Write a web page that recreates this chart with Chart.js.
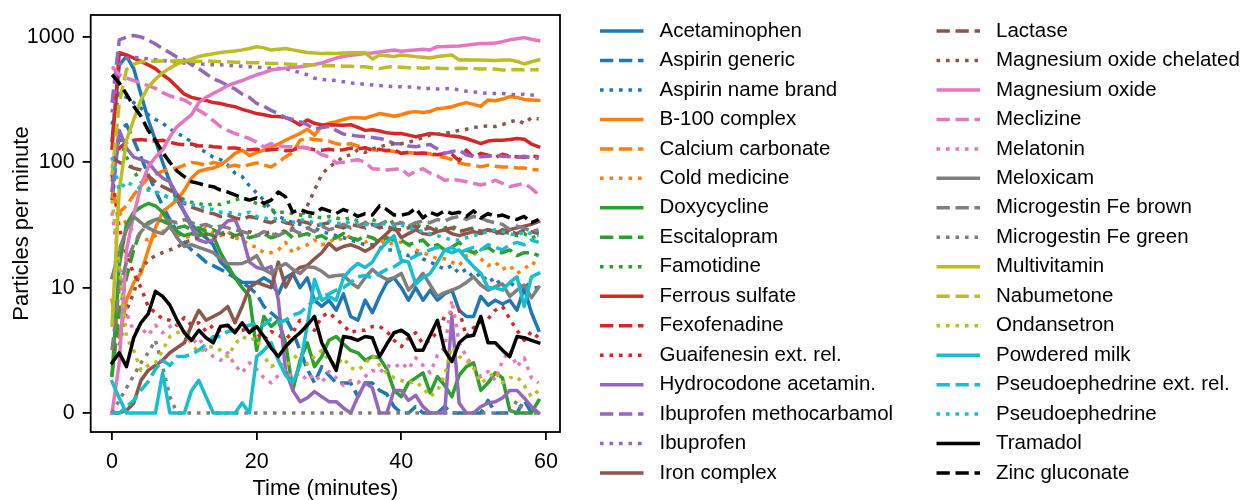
<!DOCTYPE html>
<html>
<head>
<meta charset="utf-8">
<script src="https://cdn.jsdelivr.net/npm/chart.js@4"></script>
<style>
  html, body { margin: 0; padding: 0; background: #fff; }
  #wrap { width: 1246px; height: 500px; }
</style>
</head>
<body>
<div id="wrap"><canvas id="chart" width="1246" height="500"></canvas></div>
<script>
/* particles per minute, 32 products */
const minutes = [0,1,2,3,4,5,6,7,8,9,10,11,12,13,14,15,16,17,18,19,20,21,22,23,24,25,26,27,28,29,
  30,31,32,33,34,35,36,37,38,39,40,41,42,43,44,45,46,47,48,49,50,51,52,53,54,55,56,57,58,59];
const xTicks = [0, 20, 40, 60];
const yTicks = [0, 10, 100, 1000];

const names = ['Acetaminophen', 'Aspirin generic', 'Aspirin name brand', 'B-100 complex', 'Calcium carbonate',
  'Cold medicine', 'Doxycycline', 'Escitalopram', 'Famotidine', 'Ferrous sulfate', 'Fexofenadine',
  'Guaifenesin ext. rel.', 'Hydrocodone acetamin.', 'Ibuprofen methocarbamol', 'Ibuprofen', 'Iron complex',
  'Lactase', 'Magnesium oxide chelated', 'Magnesium oxide', 'Meclizine', 'Melatonin', 'Meloxicam',
  'Microgestin Fe brown', 'Microgestin Fe green', 'Multivitamin', 'Nabumetone', 'Ondansetron',
  'Powdered milk', 'Pseudoephedrine ext. rel.', 'Pseudoephedrine', 'Tramadol', 'Zinc gluconate'];

const acetaminophen = [150,600,700,560,350,220,150,100,70,50, 40,32,28,25,22,16,14,12,11,11,
  11,12,11,9.5,12,13,10,12,9,8.5, 9,8.2,9.5,7.7,7.4,9,8,9.3,11,12,
  10,9,10,9,9.8,9,9.5,9.8,8.2,7.7, 7.7,9.3,8.6,9,8.7,9,8.2,10,8,6.6];
const aspirinGeneric = [50,180,200,150,110,80,60,45,35,28, 23,20,18,16,15,14,13,12,11,10,
  9.5,8.5,8,7.5,7.6,6.5,5,3.5,2.4,3.7, 3,2.4,2.4,2.4,1.3,2.4,2.4,1.8,1.5,0.5,
  0,0,0.5,0,0,0,0.5,0,0,0, 0,0,1,0,0,0,0,1,0,0];
const aspirinBrand = [200,355,330,300,270,240,220,205,185,170, 160,145,130,120,110,105,95,82,77,65,
  57,50,42,37,35,33,32,30,30,28, 27,26,25,24,23,22,22,21,20,20,
  19,18,19,17,16,15,14,15,13,14, 12,13,11,12,10,11,10,11,10,10];
const b100 = [9,6,9,11,13,20,30,40,45,50, 60,75,85,88,90,95,105,118,125,113,
  120,125,133,140,150,160,170,184,165,195, 205,211,220,227,227,225,235,245,240,233,
  240,250,254,250,255,268,272,278,290,300, 290,280,315,310,320,335,330,318,315,312];
const calcium = [60,40,45,55,65,75,80,85,88,90, 95,100,98,95,100,97,92,95,92,96,
  99,95,92,100,111,120,150,155,152,150, 148,141,138,141,135,130,126,124,125,122,
  118,120,118,118,117,111,110,105,99,96, 95,92,95,93,92,92,90,90,88,87];
const coldMedicine = [55,40,32,28,25,24,26,28,30,27, 25,26,28,30,27,26,28,25,24,22,
  21,19,19,20,23,19,21,22,24,22, 23,25,24,26,24,23,25,24,22,23,
  23,22,20,19,18,17,17,16,15,18, 19,17,15,16,14,15,13,14,16,15];
const doxycycline = [3,15,32,40,44,47,45,40,32,28, 26,27,26,27,26,19,15,12,10,9.3,
  5,7.7,6.9,7.4,5.6,1.8,4.2,5.6,3.7,4.5, 5.8,6.1,5.5,5,4.8,4.2,4.5,4.4,3.5,1.8,
  1.3,2.4,2.8,3.2,1.6,2.9,2.2,1.3,3,3.7, 4,1.8,2.4,3.2,2.8,0.2,0,0,0,1];
const escitalopram = [3,8,12,20,29,33,35,34,32,30, 31,29,30,28,29,27,28,26,27,25,
  26,27,25,26,28,25,26,27,25,26, 24,25,27,25,24,26,25,23,25,24,
  24,22,23,24,21,22,20,21,23,20, 19,20,21,19,19,20,18,19,19,18];
const famotidine = [70,160,110,85,70,62,58,55,52,55, 50,48,47,45,47,46,48,50,52,50,
  47,45,42,40,40,39,38,37,37,36, 37,36,35,36,34,33,35,33,32,34,
  33,31,32,30,31,29,30,31,29,28, 30,28,29,27,28,27,26,27,25,26];
const ferrous = [130,750,720,680,640,600,560,500,455,400, 350,330,320,312,300,295,285,278,265,255,
  245,240,233,232,228,215,199,218,205,199, 200,199,198,200,190,180,182,178,172,170,
  170,165,160,165,170,168,165,162,160,155, 148,141,148,150,150,152,155,153,140,133];
const fexofenadine = [90,130,145,150,152,150,148,150,145,140, 138,140,135,136,133,132,130,130,128,126,
  127,125,126,128,124,125,133,130,126,125, 127,125,126,130,128,131,125,127,124,126,
  118,120,118,119,117,115,118,116,103,125, 110,118,114,110,116,112,111,110,112,111];
const guaifenesin = [80,30,18,13,10,8.5,8,7.5,7.4,7, 7.6,7,7.2,6.5,7,6.6,7,6.5,6.6,6.8,
  6.4,5.8,6.5,6.2,5.9,6.4,7.4,7,6.6,7.7, 8,7.5,7,6.4,6.6,6.6,6.9,6.9,6.5,5.8,
  5.3,6,6.4,5.5,5.8,6.5,7.7,8,8.2,6.1, 6.8,7.2,7.5,8.2,8.5,7.5,6.6,5.8,6.5,6];
const hydrocodone = [60,180,130,110,105,100,85,75,70,55, 40,30,24,23,24,30,34,35,26,16,
  14.5,14,14.7,9,3.4,1.8,0.9,1.2,1.7,1.3, 0.9,0.9,0.4,0,1.3,2.4,2,0,0,1.8,
  1.8,1,1.4,0.5,0,0,0,7.7,0.8,0, 0,0.5,0.8,0.9,1.2,1.8,1.8,1.2,0.5,0];
const ibuMetho = [300,950,1000,1030,1000,945,880,810,750,690, 660,600,560,510,465,440,410,385,350,330,
  295,280,260,245,227,220,211,200,184,190, 193,180,168,165,162,160,158,155,150,141,
  141,135,133,137,139,128,118,122,125,115, 111,111,112,114,112,111,110,112,109,108];
const ibuprofen = [250,600,680,690,680,670,660,650,640,630, 620,615,610,605,600,600,595,590,585,580,
  575,570,565,560,560,540,520,500,470,460, 455,450,440,430,425,420,415,410,405,402,
  402,400,400,385,390,385,388,385,380,370, 365,360,355,355,355,350,345,350,345,340];
const ironComplex = [0,0,0.2,0.8,2.6,3.4,3.8,4.2,4.8,5.2, 5.6,7,8.2,7.4,7.7,8,8.5,7.2,8.5,10,
  11,10.5,10,16,10.1,13,14.5,15,17,19, 22.6,20,21.3,22,21,19.5,21,24,27,30.8,
  25,27,29,27,26.5,28,29,27,26,27, 28,27,29,28,27,29,30,31,32,33.7];
const lactase = [110,100,95,90,87,78,70,64,60,55, 47,44,42,40,39,37,38,36,35,37,
  36,34,33,35,33,32,34,33,31,32, 33,31,30,32,31,30,32,30,31,29,
  29,30,31,29,30,28,29,30,28,29, 30,28,29,27,29,28,27,29,28,27];
const mgChelated = [5,5.3,8.2,9.6,14,16.6,18,19,20,21, 23,24,25,26,25,27,26,25,27,28,
  26,27,28,26,29,30,35,45,60,80, 92,100,111,115,126,120,128,133,138,141,
  141,145,150,158,165,168,170,175,180,184, 190,193,195,193,200,210,218,204,227,222];
const mgOxide = [0,4,20,38,65,92,110,126,160,193, 215,240,300,330,355,380,410,430,450,475,
  500,520,545,555,565,575,580,590,605,620, 650,680,700,715,725,740,745,760,775,789,
  770,780,789,800,790,838,840,845,850,862, 875,890,890,896,920,950,970,990,960,935];
const meclizine = [580,500,470,450,430,410,390,360,340,325, 315,290,260,240,215,193,180,170,162,155,
  145,133,141,136,133,133,132,130,125,115, 111,99,100,103,105,100,89,88,87,88,
  89,79,85,89,82,78,72,73,72,70, 68,66,68,72,68,64,66,68,62,55];
const melatonin = [40,15,8,6.5,6.8,6.2,7,6.4,6.9,7.2, 6.4,5.5,6,5,4.5,4.2,4.8,3.8,3.2,4,
  3.5,2.8,2.4,3,3.5,2.8,3.2,2.6,3.1,2.4, 3.3,2.8,2.2,2.6,2.4,2.9,3.4,3.2,3.8,3.6,
  4,3.5,4.4,3.8,3.2,4.6,5.2,9,5.6,4.5, 3.6,2.9,3.3,2.6,4.2,5,3.7,4.4,2.8,2.4];
const meloxicam = [12,20,29,37,33,30,28,27,31,25, 21.3,22,21,20,19,17,15.6,15.5,15.6,16.5,
  18,14,13,14.5,15.6,14,13,14.7,14.5,13.5, 12.2,12.5,12.6,11,10,12,14,12.5,11.6,12,
  13,9.8,11,13,10.5,9.3,9.6,9.8,10.1,11, 12.2,10.5,9.8,10.2,10.7,9.3,9.8,10.5,9.2,10.1];
const microBrown = [5,10,16,22,28,32,35,36,34,33, 35,33,31,32,30,31,30,29,28,27,
  26,28,27,26,28,29,27,30,28,31, 29,30,32,30,31,33,31,32,34,32,
  33,31,33,34,33,35,34,36,37,35, 37,36,34,33,32,29,31,30,28,29];
const microGreen = [0,1,2,3,4,4.8,5.8,3.7,1.3,0, 0,0,0,0,0,0,0,0,0,0,
  0,0,0,0,0,0,0,0,0,0, 0,0,0,0,0,0,0,0,0,0,
  0,0,0,0,0,0,0,0,0,0, 0,0,0,0,0,0,1,0,0,0];
const multivitamin = [7,60,150,220,315,400,460,520,565,610, 640,670,700,720,735,752,765,775,790,810,
  838,820,789,800,810,790,770,752,745,740, 742,740,745,748,750,752,668,720,710,698,
  720,710,698,690,680,700,710,720,657,660, 657,655,652,650,655,657,640,610,635,657];
const nabumetone = [80,300,550,610,635,640,640,645,640,650, 645,640,640,645,640,635,635,630,630,625,
  625,620,615,615,610,605,605,600,600,590, 590,590,585,585,580,580,570,560,575,580,
  575,570,570,565,570,565,560,560,565,560, 560,555,560,555,545,548,550,545,548,548];
const ondansetron = [50,15,6,5,3.4,3.8,4,5,6.1,6.4, 6.6,5.5,4.8,5.2,5.3,5,4.5,5.5,6.1,5.8,
  6,4.5,3.7,4,3.7,4.3,4.8,3.9,4.5,5, 4.2,3.8,4.4,3.6,3.4,3.9,4.6,3.8,3.2,2.8,
  2.6,2.4,2.5,2,1.3,1.8,3,5.3,4.5,4.2, 3.6,2.4,2.8,3.3,2.4,2.8,2.9,2.2,1.3,1.8];
const powderedMilk = [2.5,1.2,0,0,0,0,0,3.2,0,0, 0,1.8,2.6,1.3,0,0,0,0,0.8,0,
  4.5,5,5.6,4.2,3,2.4,3.8,7,11.6,9, 9.3,9,12,14,15.6,14.5,16,20,23,26,
  16.6,16,10.7,12,13,16,20,19,20,17, 14.7,13,10,10,9.8,11,12.2,8.5,12.2,13];
const pseudoER = [0,0,0.5,1,1.8,2.5,3.5,4.2,3.8,4.5, 4.5,4.7,5,5.5,6.1,6.1,6.5,6.6,6.8,7,
  7.2,7,7.5,7.2,7.4,7.8,8,8.5,9,9.3, 9.5,9.8,10,11,12.2,12.5,12,13,14,14.7,
  16,16.6,18,19,20,21,20,21,19,20, 21,20,22,21,20,22,23,22,24,23];
const pseudo = [110,60,70,65,62,60,58,55,52,50, 48,46,45,43,42,40,40,39,38,40,
  37,36,35,36,34,33,35,34,33,32, 34,33,32,34,33,32,31,33,32,31,
  31.6,30,29,28,27,26,25,24,24,25, 26,27,28,29,28,27,26,28,27,26];
const tramadol = [4,4.8,3.7,6,7.2,7.9,9.7,9.3,8.6,7.4, 6.4,5.8,6.6,6,5.6,6.9,7,6.4,7.2,6.4,
  6.9,6.1,5.2,4.5,5.3,5.9,6.4,7,7.7,5.6, 4.5,3.4,6.1,6,5.8,6.1,6,4.5,5.5,6.4,
  6.6,6.2,5,5,6.2,7.4,5,4.1,5.6,6.1, 6.2,7.7,5.6,5.6,5,4.5,6.1,6,5.8,5.6];
const zinc = [500,430,350,280,233,180,150,120,100,85, 77,70,68,65,64,60,58,55,52,50,
  52,47,50,58,53,40,42,40,39,43, 41,39,42,40,37,39,38,45,42,38,
  38,39,43,36,40,38,41,39,40,37, 41,36,39,37,38,36,35,37,33,35];

const series = [acetaminophen, aspirinGeneric, aspirinBrand, b100, calcium, coldMedicine, doxycycline,
  escitalopram, famotidine, ferrous, fexofenadine, guaifenesin, hydrocodone, ibuMetho, ibuprofen,
  ironComplex, lactase, mgChelated, mgOxide, meclizine, melatonin, meloxicam, microBrown, microGreen,
  multivitamin, nabumetone, ondansetron, powderedMilk, pseudoER, pseudo, tramadol, zinc];

const palette = ['#1f77b4', '#ff7f0e', '#2ca02c', '#d62728', '#9467bd', '#8c564b', '#e377c2', '#7f7f7f', '#bcbd22', '#17becf'];
const LW = 3.5;
const DASHES = [[], [13.3, 5.7], [3.6, 5.9]];
const FONT = "'Liberation Sans', Arial, Helvetica, sans-serif";

// symlog-ish transform: linear below 10, log10 above
function symT(v) { return Math.abs(v) <= 10 ? v / 10 : Math.sign(v) * Math.log10(Math.abs(v)); }
function symInv(t) { return Math.abs(t) <= 1 ? t * 10 : Math.sign(t) * Math.pow(10, Math.abs(t)); }

class SymlogScale extends Chart.Scale {
  determineDataLimits() {
    const {min, max} = this.getMinMax(true);
    this.min = min; this.max = max;
  }
  buildTicks() {
    return (this.options.ticks.values || []).map(v => ({value: v}));
  }
  configure() {
    super.configure();
    this._t0 = symT(this.min);
    this._t1 = symT(this.max);
  }
  getLabelForValue(v) { return String(v); }
  getPixelForValue(v) {
    if (v === null || v === undefined || isNaN(v)) return NaN;
    return this.getPixelForDecimal((symT(v) - this._t0) / (this._t1 - this._t0));
  }
  getValueForPixel(p) {
    return symInv(this._t0 + this.getDecimalForPixel(p) * (this._t1 - this._t0));
  }
}
SymlogScale.id = 'symlog';
SymlogScale.defaults = {};
Chart.register(SymlogScale);

const datasets = series.map((data, i) => {
  const color = i < 30 ? palette[Math.floor(i / 3)] : '#000000';
  const dash = DASHES[i % 3 === 0 || i === 30 ? 0 : (i === 31 ? 1 : i % 3)];
  return {
    label: names[i],
    data: data,
    borderColor: color,
    backgroundColor: color,
    borderWidth: LW,
    borderDash: dash,
    borderCapStyle: dash.length ? 'butt' : 'square',
    borderJoinStyle: 'round',
    pointRadius: 0,
    tension: 0,
    fill: false,
    order: series.length - i
  };
});

// frame round the plot area
const framePlugin = {
  id: 'frame',
  afterDatasetsDraw(chart) {
    const {ctx, chartArea: a} = chart;
    ctx.save();
    ctx.strokeStyle = '#000';
    ctx.lineWidth = 1.8;
    ctx.strokeRect(a.left, a.top, a.right - a.left, a.bottom - a.top);
    ctx.restore();
  }
};

// two-column legend at the right
const sideLegend = {
  id: 'sideLegend',
  afterDraw(chart) {
    const ctx = chart.ctx;
    ctx.save();
    ctx.font = '20.5px ' + FONT;
    ctx.textBaseline = 'middle';
    ctx.fillStyle = '#000';
    chart.data.datasets.forEach((ds, i) => {
      const col = Math.floor(i / 16), row = i % 16;
      const x = 600 + col * 336.5, y = 31 + row * 29.47;
      ctx.save();
      ctx.strokeStyle = ds.borderColor;
      ctx.lineWidth = LW;
      ctx.setLineDash(ds.borderDash);
      ctx.lineCap = 'butt';
      ctx.beginPath(); ctx.moveTo(x, y); ctx.lineTo(x + 43.5, y); ctx.stroke();
      ctx.restore();
      ctx.fillText(ds.label, x + 59.5, y);
    });
    ctx.restore();
  }
};

Chart.defaults.font.family = FONT;
Chart.defaults.font.size = 21.5;
Chart.defaults.color = '#000';

new Chart(document.getElementById('chart'), {
  type: 'line',
  data: { labels: minutes, datasets: datasets },
  options: {
    responsive: false,
    animation: false,
    devicePixelRatio: 1,
    layout: { padding: { left: 0, right: 686, top: 15, bottom: 0 } },
    plugins: { legend: { display: false }, tooltip: { enabled: false } },
    scales: {
      x: {
        type: 'linear',
        min: -2.95, max: 61.95,
        afterBuildTicks: s => { s.ticks = xTicks.map(v => ({value: v})); },
        afterFit: s => { s.height = 68; s.paddingLeft = 0; s.paddingRight = 0; },
        ticks: { padding: 9, color: '#000', font: { size: 21.5 } },
        grid: { drawOnChartArea: false, drawTicks: true, tickLength: 8, color: '#000', lineWidth: 1.8 },
        border: { display: false },
        title: { display: true, text: 'Time (minutes)', color: '#000', font: { size: 22, lineHeight: 1 }, padding: { top: 0, bottom: 0 } }
      },
      y: {
        type: 'symlog',
        min: -1.52, max: 1500,
        afterFit: s => { s.width = 90.7; s.paddingTop = 0; s.paddingBottom = 0; },
        ticks: { values: yTicks, padding: 8, color: '#000', font: { size: 21.5 } },
        grid: { drawOnChartArea: false, drawTicks: true, tickLength: 8, color: '#000', lineWidth: 1.8 },
        border: { display: false },
        title: { display: true, text: 'Particles per minute', color: '#000', font: { size: 22, lineHeight: 1 }, padding: { top: 11, bottom: 0 } }
      }
    }
  },
  plugins: [framePlugin, sideLegend]
});
</script>
</body>
</html>
